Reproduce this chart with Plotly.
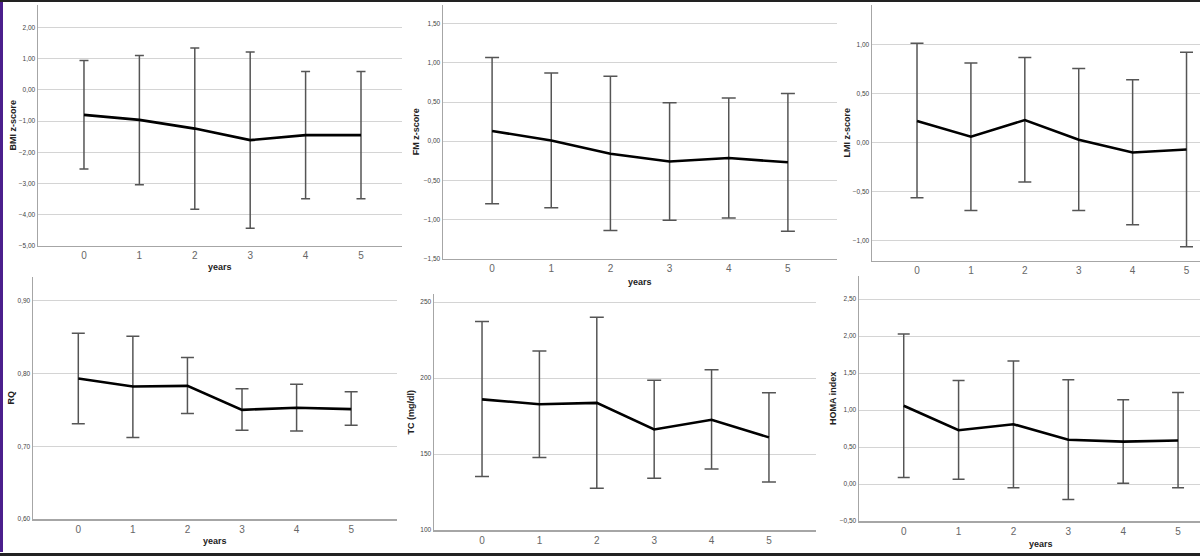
import plotly.graph_objects as go

W, H = 1200, 559

years = [0, 1, 2, 3, 4, 5]

bmi_mean = [-0.80, -0.96, -1.24, -1.61, -1.45, -1.45]
bmi_upper = [0.95, 1.11, 1.35, 1.22, 0.59, 0.59]
bmi_lower = [-2.54, -3.04, -3.83, -4.44, -3.49, -3.49]

fm_mean = [0.13, 0.01, -0.16, -0.26, -0.215, -0.27]
fm_upper = [1.07, 0.87, 0.83, 0.49, 0.55, 0.61]
fm_lower = [-0.80, -0.85, -1.14, -1.01, -0.98, -1.15]

lmi_mean = [0.22, 0.06, 0.23, 0.03, -0.10, -0.07]
lmi_upper = [1.01, 0.81, 0.865, 0.755, 0.64, 0.92]
lmi_lower = [-0.56, -0.69, -0.40, -0.69, -0.835, -1.06]

rq_mean = [0.793, 0.782, 0.783, 0.750, 0.753, 0.751]
rq_upper = [0.855, 0.851, 0.822, 0.779, 0.785, 0.775]
rq_lower = [0.731, 0.712, 0.745, 0.722, 0.721, 0.729]

tc_mean = [186.0, 182.8, 183.7, 166.2, 172.6, 161.0]
tc_upper = [237.2, 217.8, 240.0, 198.5, 205.4, 190.4]
tc_lower = [135.2, 147.8, 127.6, 134.1, 140.2, 131.7]

homa_mean = [1.06, 0.73, 0.81, 0.60, 0.575, 0.59]
homa_upper = [2.03, 1.40, 1.665, 1.41, 1.14, 1.24]
homa_lower = [0.09, 0.066, -0.047, -0.208, 0.012, -0.047]

# panel layout: pixel box (left, top, right, bottom), x range, y range, y ticks
panels = [
    dict(title="BMI z-score", mean=bmi_mean, up=bmi_upper, lo=bmi_lower,
         box=(38, 5, 402, 247), xr=[-0.83, 5.74], yr=[-5, 2.73],
         tick0=-5, dtick=1, fmt=".2f", cap=4.5, xt=(220, 268), stand=0),
    dict(title="FM z-score", mean=fm_mean, up=fm_upper, lo=fm_lower,
         box=(443, 5, 837, 260), xr=[-0.83, 5.83], yr=[-1.5, 1.74],
         tick0=-1.5, dtick=0.5, fmt=".2f", cap=7, xt=(640, 284), stand=2),
    dict(title="LMI z-score", mean=lmi_mean, up=lmi_upper, lo=lmi_lower,
         box=(872, 5, 1200, 262), xr=[-0.835, 5.25], yr=[-1.2, 1.4],
         tick0=-1, dtick=0.5, fmt=".2f", cap=6.5, xt=None, stand=0),
    dict(title="RQ", mean=rq_mean, up=rq_upper, lo=rq_lower,
         box=(33, 278, 397, 522), xr=[-0.83, 5.84], yr=[0.6, 0.933],
         tick0=0.6, dtick=0.1, fmt=".2f", cap=6.5, xt=(215, 544), stand=1),
    dict(title="TC (mg/dl)", mean=tc_mean, up=tc_upper, lo=tc_lower,
         box=(434, 296, 816, 533), xr=[-0.837, 5.82], yr=[100, 255],
         tick0=100, dtick=50, fmt="d", cap=7, xt=None, stand=4),
    dict(title="HOMA index", mean=homa_mean, up=homa_upper, lo=homa_lower,
         box=(859, 277, 1200, 524), xr=[-0.815, 5.40], yr=[-0.5, 2.82],
         tick0=-0.5, dtick=0.5, fmt=".2f", cap=6, xt=(1041, 547), stand=1),
]

fig = go.Figure()
font_family = "Liberation Sans, Arial, sans-serif"

for i, p in enumerate(panels, start=1):
    xa = "x" if i == 1 else f"x{i}"
    ya = "y" if i == 1 else f"y{i}"
    plus = [u - m for u, m in zip(p["up"], p["mean"])]
    minus = [m - l for m, l in zip(p["mean"], p["lo"])]
    fig.add_trace(go.Scatter(
        x=years, y=p["mean"], mode="lines", xaxis=xa, yaxis=ya,
        line=dict(color="#000000", width=2.6),
        error_y=dict(type="data", symmetric=False, array=plus, arrayminus=minus,
                     color="#555555", thickness=1.5, width=p["cap"]),
        showlegend=False, hoverinfo="skip",
    ))
    l, t, r, b = p["box"]
    xkey = "xaxis" if i == 1 else f"xaxis{i}"
    ykey = "yaxis" if i == 1 else f"yaxis{i}"
    fig.update_layout(**{
        xkey: dict(domain=[l / W, r / W], range=p["xr"], anchor=ya,
                   tickmode="array", tickvals=years, ticktext=[str(v) for v in years],
                   showgrid=False, zeroline=False, showline=True,
                   linecolor="#a6a6a6", linewidth=1.5, ticks="",
                   tickfont=dict(size=10, color="#666666", family=font_family)),
        ykey: dict(domain=[1 - b / H, 1 - t / H], range=p["yr"], anchor=xa,
                   tick0=p["tick0"], dtick=p["dtick"], tickmode="linear",
                   tickformat=p["fmt"], showgrid=True, gridcolor="#d4d4d4",
                   gridwidth=1, zeroline=False, showline=True,
                   linecolor="#a6a6a6", linewidth=1.5, ticks="",
                   tickfont=dict(size=6.5, color="#444444", family=font_family),
                   title=dict(text=f"<b>{p['title']}</b>", standoff=p["stand"],
                              font=dict(size=9, color="#222222", family=font_family))),
    })
    if p["xt"] is not None:
        fig.add_annotation(text="<b>years</b>", xref="paper", yref="paper",
                           x=p["xt"][0] / W, y=1 - p["xt"][1] / H,
                           showarrow=False, xanchor="center", yanchor="middle",
                           font=dict(size=9, color="#222222", family=font_family))

# image frame borders
fig.add_shape(type="rect", xref="paper", yref="paper", x0=0, x1=3 / W, y0=4 / H, y1=1,
              fillcolor="#4b1f8c", line=dict(width=0), layer="above")
fig.add_shape(type="rect", xref="paper", yref="paper", x0=0, x1=1, y0=1 - 2 / H, y1=1,
              fillcolor="#222222", line=dict(width=0), layer="above")
fig.add_shape(type="rect", xref="paper", yref="paper", x0=0, x1=1, y0=0, y1=3 / H,
              fillcolor="#222222", line=dict(width=0), layer="above")

fig.update_layout(
    width=W, height=H, margin=dict(l=0, r=0, t=0, b=0),
    paper_bgcolor="white", plot_bgcolor="white",
    separators=", ", font=dict(family=font_family),
    hovermode=False,
)

fig.write_html(
    "out.html",
    config={"displayModeBar": False, "staticPlot": True},
    post_script="document.body.style.margin='0';document.body.style.overflow='hidden';",
)
